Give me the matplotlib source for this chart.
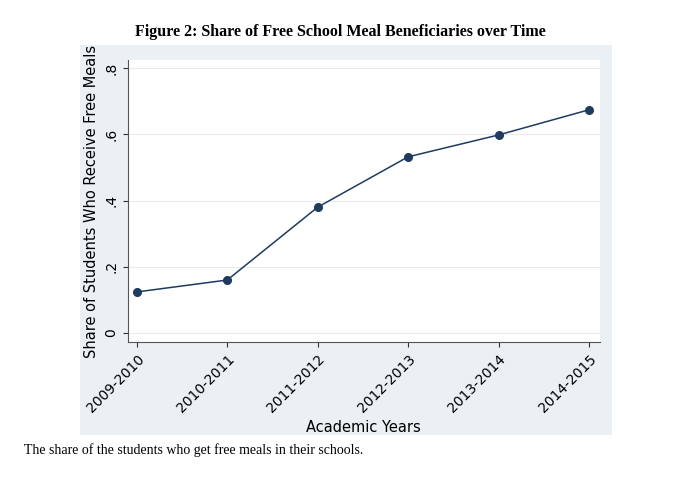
import matplotlib.pyplot as plt
from matplotlib.patches import Rectangle

years = ["2009-2010", "2010-2011", "2011-2012", "2012-2013", "2013-2014", "2014-2015"]
share = [0.124, 0.160, 0.380, 0.532, 0.598, 0.674]

fig = plt.figure(figsize=(6.8, 4.97), dpi=100)
fig.patches.append(Rectangle((0.118, 0.125), 0.782, 0.784, transform=fig.transFigure,
                             facecolor="#eaf0f3", edgecolor="none", zorder=-1))

ax = fig.add_axes([0.188, 0.312, 0.694, 0.567])
ax.set_zorder(1)
ax.set_facecolor("white")
x = list(range(len(years)))
ax.plot(x, share, color="#1f3b5e", lw=1.1, marker="o", ms=5.5)

ax.set_xlim(-0.1, 5.12)
ax.set_ylim(-0.027, 0.824)
ax.set_yticks([0, 0.2, 0.4, 0.6, 0.8])
ax.set_yticklabels(["0", ".2", ".4", ".6", ".8"], rotation=90, va="center")
ax.set_xticks(x)
ax.set_xticklabels(years, rotation=45, ha="right", rotation_mode="anchor")
ax.grid(axis="y", color="#e6ecef", lw=0.8)
ax.set_axisbelow(True)
for s in ["top", "right"]:
    ax.spines[s].set_visible(False)
for s in ["left", "bottom"]:
    ax.spines[s].set_color("#555555")
ax.tick_params(colors="#333333", labelsize=10, labelcolor="black")
ax.set_xlabel("Academic Years", fontsize=10.5)
ax.set_ylabel("Share of Students Who Receive Free Meals", fontsize=10.5)

fig.text(0.5, 0.935, "Figure 2: Share of Free School Meal Beneficiaries over Time",
         ha="center", va="center", fontsize=11.5, fontweight="bold", family="Liberation Serif")
fig.text(0.035, 0.095, "The share of the students who get free meals in their schools.",
         ha="left", va="center", fontsize=10, family="Liberation Serif")

fig.savefig("out.png", dpi=100)
